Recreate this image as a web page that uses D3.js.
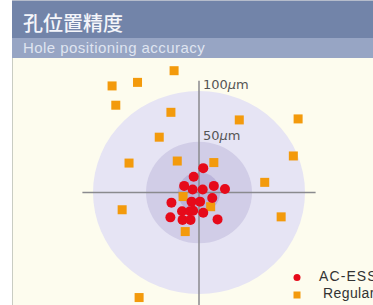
<!DOCTYPE html>
<html>
<head>
<meta charset="utf-8">
<script src="https://cdn.jsdelivr.net/npm/d3@7"></script>
<style>
  body { margin: 0; background: #fff; }
  svg { display: block; }
</style>
</head>
<body>
<script>
const width = 373, height = 305;

// 丸の半径 (µm)
const rings = [100, 50, 20];
const ringColors = ['#e6e4f4', '#d1cde7', '#bbb4da'];
const ringLabels = [100, 50];

// AC-ESS の穴位置 (µm)
const acX = [4, -5, -14, -6, 3.5, 14, 24.5, 12.5, -26, -7, 1, -16, -8.5, -5.5, 4, -27, -15.5, -8, 17.5];
const acY = [24, 15.5, 6.5, 3, 3, 6.5, 3.5, -5.5, -10, -9, -9, -18.5, -18.5, -18, -20, -24.5, -27, -27, -26.5];

// 従来機の穴位置 (µm)
const regX = [-23.5, -82, -58, -78.5, -26.5, 38, 93.5, -37.5, 89, -66, -20.5, 14, 62, -15, -72.5, 11, 77.5, -13, -56.5];
const regY = [120, 105, 108.5, 86, 79, 71.5, 72.5, 54.5, 36, 29, 31, 29.5, 10, -4, -17, -14, -24, -38.5, -103.5];

const legend = ['AC-ESS', 'Regular'];

const svg = d3.select('body').append('svg').attr('width', width).attr('height', height);

// 背景
svg.append('rect').attr('x', 12).attr('y', 58).attr('width', width - 12).attr('height', height - 58).attr('fill', '#fdfcee');
svg.append('line').attr('x1', 12.5).attr('x2', 12.5).attr('y1', 58).attr('y2', height).attr('stroke', '#c9ccc2').attr('stroke-width', 1);

// 見出し
svg.append('rect').attr('x', 12).attr('y', 1).attr('width', width - 12).attr('height', 37).attr('fill', '#7284a9');
svg.append('rect').attr('x', 12).attr('y', 38).attr('width', width - 12).attr('height', 20).attr('fill', '#97a5c4');
svg.append('line').attr('x1', 12).attr('x2', width).attr('y1', 0.5).attr('y2', 0.5).attr('stroke', '#b5bccb');
svg.append('text').attr('x', 23).attr('y', 31).text('孔位置精度')
  .attr('font-family', '"Noto Sans CJK JP"').attr('font-size', 20).attr('font-weight', 500).attr('fill', '#f4f5fa');
svg.append('text').attr('x', 23).attr('y', 53).text('Hole positioning accuracy')
  .attr('font-family', '"Liberation Sans", Arial, sans-serif').attr('font-size', 15)
  .attr('letter-spacing', 0.45).attr('fill', '#dfe4f0');

// スケール
const x = d3.scaleLinear().domain([-100, 100]).range([93, 305]);
const y = d3.scaleLinear().domain([-100, 100]).range([294, 91]);
const rx = r => x(r) - x(0);
const ry = r => y(0) - y(r);

const g = svg.append('g');

g.selectAll('.ring').data(rings).enter().append('ellipse')
  .attr('class', 'ring')
  .attr('cx', x(0)).attr('cy', y(0))
  .attr('rx', d => rx(d)).attr('ry', d => ry(d))
  .attr('fill', (d, i) => ringColors[i]);

// 十字線
g.append('line').attr('x1', x(-110)).attr('x2', x(110)).attr('y1', y(0)).attr('y2', y(0))
  .attr('stroke', '#8a8a8e').attr('stroke-width', 1.5);
g.append('line').attr('x1', x(0)).attr('x2', x(0)).attr('y1', y(110)).attr('y2', height)
  .attr('stroke', '#8a8a8e').attr('stroke-width', 1.5);

// 目盛ラベル
const lbl = g.selectAll('.lbl').data(ringLabels).enter().append('text')
  .attr('class', 'lbl')
  .attr('x', x(0) + 4).attr('y', d => y(d) - 2)
  .attr('font-family', '"DejaVu Sans", sans-serif').attr('font-size', 13).attr('fill', '#555');
lbl.append('tspan').text(d => d);
lbl.append('tspan').attr('font-style', 'italic').text('μ');
lbl.append('tspan').text('m');

// 従来機
const sq = 9;
g.selectAll('.reg').data(d3.range(regX.length)).enter().append('rect')
  .attr('class', 'reg')
  .attr('x', i => x(regX[i]) - sq / 2).attr('y', i => y(regY[i]) - sq / 2)
  .attr('width', sq).attr('height', sq)
  .attr('fill', '#f39a0c');

// AC-ESS
g.selectAll('.ac').data(d3.range(acX.length)).enter().append('circle')
  .attr('class', 'ac')
  .attr('cx', i => x(acX[i])).attr('cy', i => y(acY[i]))
  .attr('r', 5)
  .attr('fill', '#e60a1a');

// 凡例
const lg = svg.append('g');
lg.append('circle').attr('cx', 297).attr('cy', 277.5).attr('r', 3.5).attr('fill', '#e60a1a');
lg.append('rect').attr('x', 293.5).attr('y', 291.5).attr('width', 7).attr('height', 7).attr('fill', '#f39a0c');
lg.selectAll('.lt').data(legend).enter().append('text')
  .attr('class', 'lt')
  .attr('x', (d, i) => i ? 323 : 319).attr('y', (d, i) => i ? 298 : 281)
  .attr('font-family', '"Liberation Sans", Arial, sans-serif').attr('font-size', 14)
  .attr('letter-spacing', (d, i) => i ? 0.4 : 1.1).attr('fill', '#333')
  .text(d => d);
</script>
</body>
</html>
